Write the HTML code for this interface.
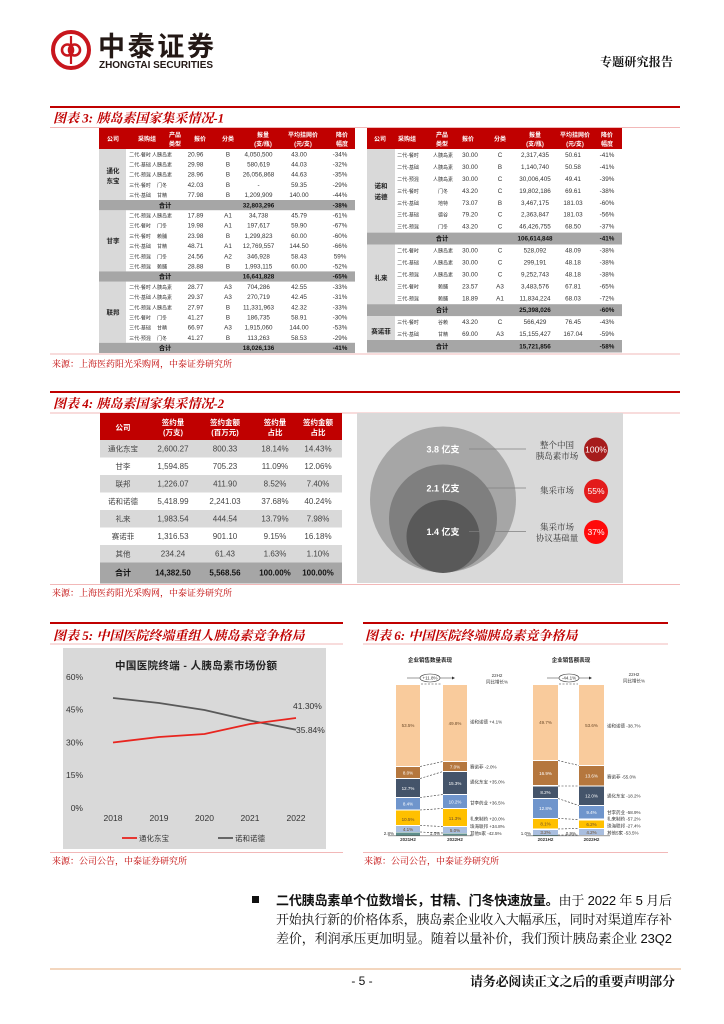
<!DOCTYPE html>
<html><head><meta charset="utf-8"><style>
html,body{margin:0;padding:0;background:#fff;}
body{width:724px;height:1024px;overflow:hidden;}
svg{display:block;}
</style></head><body>
<svg width="724" height="1024" viewBox="0 0 724 1024" xmlns="http://www.w3.org/2000/svg">
<style>
.n{font-family:"Liberation Sans",sans-serif;font-size:6.3px;fill:#333;text-anchor:middle}
.c{font-family:"Liberation Sans","Noto Sans CJK SC",sans-serif;font-size:5px;fill:#333;text-anchor:middle}
.h{font-family:"Liberation Sans","Noto Sans CJK SC",sans-serif;font-size:6px;font-weight:bold;fill:#fff;text-anchor:middle}
.co{font-family:"Liberation Sans","Noto Sans CJK SC",sans-serif;font-size:6.5px;font-weight:bold;fill:#222;text-anchor:middle}
.tb{font-family:"Liberation Sans","Noto Sans CJK SC",sans-serif;font-size:6.3px;font-weight:bold;fill:#111;text-anchor:middle}
.tt{font-family:"Liberation Serif","Noto Serif CJK SC",serif;font-size:13px;font-weight:bold;font-style:italic;fill:#c00000}
.src{font-family:"Liberation Serif","Noto Serif CJK SC",serif;font-size:9px;fill:#c00000}
.t4{font-family:"Liberation Sans","Noto Sans CJK SC",sans-serif;font-size:8px;fill:#444;text-anchor:middle}
.t4c{font-family:"Liberation Sans","Noto Sans CJK SC",sans-serif;font-size:7.5px;fill:#444;text-anchor:middle}
.t4h{font-family:"Liberation Sans","Noto Sans CJK SC",sans-serif;font-size:7.5px;font-weight:bold;fill:#fff;text-anchor:middle}
.t4b{font-family:"Liberation Sans","Noto Sans CJK SC",sans-serif;font-size:8px;font-weight:bold;fill:#111;text-anchor:middle}
.ax{font-family:"Liberation Sans",sans-serif;font-size:8.5px;fill:#333}
.lg{font-family:"Liberation Sans","Noto Sans CJK SC",sans-serif;font-size:7.5px;fill:#333}
.s6{font-family:"Liberation Sans","Noto Sans CJK SC",sans-serif;font-size:4.5px;fill:#333}
.s6w{font-family:"Liberation Sans",sans-serif;font-size:4.5px;fill:#fff;text-anchor:middle}
.s6d{font-family:"Liberation Sans",sans-serif;font-size:4.5px;fill:#6b4a2a;text-anchor:middle}
.body{font-family:"Liberation Sans","Noto Serif CJK SC",serif;font-size:13px;fill:#111}
</style>

<!-- HEADER -->
<circle cx="71" cy="50" r="18" fill="none" stroke="#c8161d" stroke-width="4"/>
<circle cx="67.5" cy="50" r="5.5" fill="none" stroke="#c8161d" stroke-width="2.6"/>
<circle cx="74.5" cy="50" r="5.5" fill="none" stroke="#c8161d" stroke-width="2.6"/>
<line x1="71" y1="36" x2="71" y2="64" stroke="#c8161d" stroke-width="2.2"/>
<text x="98" y="56" font-family="Liberation Sans,'Noto Sans CJK SC',sans-serif" font-size="27" font-weight="bold" fill="#231815" textLength="116">中泰证券</text>
<text x="99" y="68" font-family="Liberation Sans,sans-serif" font-size="10" font-weight="bold" fill="#231815" textLength="114" lengthAdjust="spacingAndGlyphs">ZHONGTAI SECURITIES</text>
<text x="600" y="66" font-family="'Liberation Serif','Noto Serif CJK SC',serif" font-size="12" font-weight="bold" fill="#111" textLength="73">专题研究报告</text>

<!-- FIGURE 3 -->
<line x1="50" y1="107" x2="680" y2="107" stroke="#c00000" stroke-width="2"/>
<text class="tt" x="53" y="122.5">图表 3:  胰岛素国家集采情况-1</text>
<line x1="50" y1="127.5" x2="680" y2="127.5" stroke="#f2b8b8" stroke-width="1"/>
<line x1="50" y1="354" x2="680" y2="354" stroke="#f2b8b8" stroke-width="1"/>

<!-- left table -->
<rect x="99" y="128" width="256" height="21" fill="#c00000"/>
<text class="h" x="113" y="141">公司</text>
<text class="h" x="147" y="141">采购组</text>
<text class="h" x="175" y="137">产品</text><text class="h" x="175" y="146">类型</text>
<text class="h" x="200" y="141">报价</text>
<text class="h" x="228" y="141">分类</text>
<text class="h" x="263" y="137">报量</text><text class="h" x="263" y="146">(支/瓶)</text>
<text class="h" x="303" y="137">平均挂网价</text><text class="h" x="303" y="146">(元/支)</text>
<text class="h" x="342" y="137">降价</text><text class="h" x="342" y="146">幅度</text>
<rect x="99" y="149" width="27" height="51" fill="#d9d9d9"/>
<rect x="99" y="210.2" width="27" height="61.2" fill="#d9d9d9"/>
<rect x="99" y="281.6" width="27" height="61.2" fill="#d9d9d9"/>
<rect x="99" y="200" width="256" height="10.2" fill="#a6a6a6"/>
<rect x="99" y="271.4" width="256" height="10.2" fill="#a6a6a6"/>
<rect x="99" y="342.8" width="256" height="10.2" fill="#a6a6a6"/>
<text class="co" x="113" y="173">通化</text><text class="co" x="113" y="183">东宝</text>
<text class="co" x="113" y="243">甘李</text>
<text class="co" x="113" y="314.5">联邦</text>

<g transform="translate(0,156.3)"><text class="c" x="140">二代-餐时</text><text class="c" x="162">人胰岛素</text><text class="n" x="195.5">20.96</text><text class="n" x="228">B</text><text class="n" x="258.5">4,050,500</text><text class="n" x="299">43.00</text><text class="n" x="340">-34%</text></g>
<g transform="translate(0,166.5)"><text class="c" x="140">二代-基础</text><text class="c" x="162">人胰岛素</text><text class="n" x="195.5">29.98</text><text class="n" x="228">B</text><text class="n" x="258.5">580,619</text><text class="n" x="299">44.03</text><text class="n" x="340">-32%</text></g>
<g transform="translate(0,176.7)"><text class="c" x="140">二代-预混</text><text class="c" x="162">人胰岛素</text><text class="n" x="195.5">28.96</text><text class="n" x="228">B</text><text class="n" x="258.5">26,056,868</text><text class="n" x="299">44.63</text><text class="n" x="340">-35%</text></g>
<g transform="translate(0,186.9)"><text class="c" x="140">三代-餐时</text><text class="c" x="162">门冬</text><text class="n" x="195.5">42.03</text><text class="n" x="228">B</text><text class="n" x="258.5">-</text><text class="n" x="299">59.35</text><text class="n" x="340">-29%</text></g>
<g transform="translate(0,197.1)"><text class="c" x="140">三代-基础</text><text class="c" x="162">甘精</text><text class="n" x="195.5">77.98</text><text class="n" x="228">B</text><text class="n" x="258.5">1,209,909</text><text class="n" x="299">140.00</text><text class="n" x="340">-44%</text></g>
<g transform="translate(0,207.3)"><text class="tb" x="165">合计</text><text class="tb" x="258.5">32,803,296</text><text class="tb" x="340">-38%</text></g>
<g transform="translate(0,217.5)"><text class="c" x="140">二代-预混</text><text class="c" x="162">人胰岛素</text><text class="n" x="195.5">17.89</text><text class="n" x="228">A1</text><text class="n" x="258.5">34,738</text><text class="n" x="299">45.79</text><text class="n" x="340">-61%</text></g>
<g transform="translate(0,227.7)"><text class="c" x="140">三代-餐时</text><text class="c" x="162">门冬</text><text class="n" x="195.5">19.98</text><text class="n" x="228">A1</text><text class="n" x="258.5">197,617</text><text class="n" x="299">59.90</text><text class="n" x="340">-67%</text></g>
<g transform="translate(0,237.9)"><text class="c" x="140">三代-餐时</text><text class="c" x="162">赖脯</text><text class="n" x="195.5">23.98</text><text class="n" x="228">B</text><text class="n" x="258.5">1,299,823</text><text class="n" x="299">60.00</text><text class="n" x="340">-60%</text></g>
<g transform="translate(0,248.1)"><text class="c" x="140">三代-基础</text><text class="c" x="162">甘精</text><text class="n" x="195.5">48.71</text><text class="n" x="228">A1</text><text class="n" x="258.5">12,769,557</text><text class="n" x="299">144.50</text><text class="n" x="340">-66%</text></g>
<g transform="translate(0,258.3)"><text class="c" x="140">三代-预混</text><text class="c" x="162">门冬</text><text class="n" x="195.5">24.56</text><text class="n" x="228">A2</text><text class="n" x="258.5">346,928</text><text class="n" x="299">58.43</text><text class="n" x="340">59%</text></g>
<g transform="translate(0,268.5)"><text class="c" x="140">三代-预混</text><text class="c" x="162">赖脯</text><text class="n" x="195.5">28.88</text><text class="n" x="228">B</text><text class="n" x="258.5">1,993,115</text><text class="n" x="299">60.00</text><text class="n" x="340">-52%</text></g>
<g transform="translate(0,278.7)"><text class="tb" x="165">合计</text><text class="tb" x="258.5">16,641,828</text><text class="tb" x="340">-65%</text></g>
<g transform="translate(0,288.9)"><text class="c" x="140">二代-餐时</text><text class="c" x="162">人胰岛素</text><text class="n" x="195.5">28.77</text><text class="n" x="228">A3</text><text class="n" x="258.5">704,286</text><text class="n" x="299">42.55</text><text class="n" x="340">-33%</text></g>
<g transform="translate(0,299.1)"><text class="c" x="140">二代-基础</text><text class="c" x="162">人胰岛素</text><text class="n" x="195.5">29.37</text><text class="n" x="228">A3</text><text class="n" x="258.5">270,719</text><text class="n" x="299">42.45</text><text class="n" x="340">-31%</text></g>
<g transform="translate(0,309.3)"><text class="c" x="140">二代-预混</text><text class="c" x="162">人胰岛素</text><text class="n" x="195.5">27.97</text><text class="n" x="228">B</text><text class="n" x="258.5">11,331,963</text><text class="n" x="299">42.32</text><text class="n" x="340">-33%</text></g>
<g transform="translate(0,319.5)"><text class="c" x="140">三代-餐时</text><text class="c" x="162">门冬</text><text class="n" x="195.5">41.27</text><text class="n" x="228">B</text><text class="n" x="258.5">186,735</text><text class="n" x="299">58.91</text><text class="n" x="340">-30%</text></g>
<g transform="translate(0,329.7)"><text class="c" x="140">三代-基础</text><text class="c" x="162">甘精</text><text class="n" x="195.5">66.97</text><text class="n" x="228">A3</text><text class="n" x="258.5">1,915,060</text><text class="n" x="299">144.00</text><text class="n" x="340">-53%</text></g>
<g transform="translate(0,339.9)"><text class="c" x="140">三代-预混</text><text class="c" x="162">门冬</text><text class="n" x="195.5">41.27</text><text class="n" x="228">B</text><text class="n" x="258.5">113,263</text><text class="n" x="299">58.53</text><text class="n" x="340">-29%</text></g>
<g transform="translate(0,350.1)"><text class="tb" x="165">合计</text><text class="tb" x="258.5">18,026,136</text><text class="tb" x="340">-41%</text></g>

<!-- right table -->
<rect x="367" y="128" width="255" height="21" fill="#c00000"/>
<text class="h" x="380" y="141">公司</text>
<text class="h" x="407" y="141">采购组</text>
<text class="h" x="442" y="137">产品</text><text class="h" x="442" y="146">类型</text>
<text class="h" x="468" y="141">报价</text>
<text class="h" x="500" y="141">分类</text>
<text class="h" x="535" y="137">报量</text><text class="h" x="535" y="146">(支/瓶)</text>
<text class="h" x="575" y="137">平均挂网价</text><text class="h" x="575" y="146">(元/支)</text>
<text class="h" x="607" y="137">降价</text><text class="h" x="607" y="146">幅度</text>
<rect x="367" y="149" width="28" height="83.6" fill="#d9d9d9"/>
<rect x="367" y="244.5" width="28" height="59.7" fill="#d9d9d9"/>
<rect x="367" y="316.2" width="28" height="23.9" fill="#d9d9d9"/>
<rect x="367" y="232.6" width="255" height="11.9" fill="#a6a6a6"/>
<rect x="367" y="304.2" width="255" height="11.9" fill="#a6a6a6"/>
<rect x="367" y="340" width="255" height="12.5" fill="#a6a6a6"/>
<text class="co" x="381" y="188">诺和</text><text class="co" x="381" y="199">诺德</text>
<text class="co" x="381" y="280">礼来</text>
<text class="co" x="381" y="333.5">赛诺菲</text>

<g transform="translate(0,157)"><text class="c" x="408">二代-餐时</text><text class="c" x="443">人胰岛素</text><text class="n" x="470">30.00</text><text class="n" x="500">C</text><text class="n" x="535">2,317,435</text><text class="n" x="573">50.61</text><text class="n" x="607">-41%</text></g>
<g transform="translate(0,168.9)"><text class="c" x="408">二代-基础</text><text class="c" x="443">人胰岛素</text><text class="n" x="470">30.00</text><text class="n" x="500">B</text><text class="n" x="535">1,140,740</text><text class="n" x="573">50.58</text><text class="n" x="607">-41%</text></g>
<g transform="translate(0,180.9)"><text class="c" x="408">二代-预混</text><text class="c" x="443">人胰岛素</text><text class="n" x="470">30.00</text><text class="n" x="500">C</text><text class="n" x="535">30,006,405</text><text class="n" x="573">49.41</text><text class="n" x="607">-39%</text></g>
<g transform="translate(0,192.8)"><text class="c" x="408">三代-餐时</text><text class="c" x="443">门冬</text><text class="n" x="470">43.20</text><text class="n" x="500">C</text><text class="n" x="535">19,802,186</text><text class="n" x="573">69.61</text><text class="n" x="607">-38%</text></g>
<g transform="translate(0,204.8)"><text class="c" x="408">三代-基础</text><text class="c" x="443">地特</text><text class="n" x="470">73.07</text><text class="n" x="500">B</text><text class="n" x="535">3,467,175</text><text class="n" x="573">181.03</text><text class="n" x="607">-60%</text></g>
<g transform="translate(0,216.7)"><text class="c" x="408">三代-基础</text><text class="c" x="443">德谷</text><text class="n" x="470">79.20</text><text class="n" x="500">C</text><text class="n" x="535">2,363,847</text><text class="n" x="573">181.03</text><text class="n" x="607">-56%</text></g>
<g transform="translate(0,228.6)"><text class="c" x="408">三代-预混</text><text class="c" x="443">门冬</text><text class="n" x="470">43.20</text><text class="n" x="500">C</text><text class="n" x="535">46,426,755</text><text class="n" x="573">68.50</text><text class="n" x="607">-37%</text></g>
<g transform="translate(0,240.6)"><text class="tb" x="442">合计</text><text class="tb" x="535">106,614,848</text><text class="tb" x="607">-41%</text></g>
<g transform="translate(0,252.5)"><text class="c" x="408">二代-餐时</text><text class="c" x="443">人胰岛素</text><text class="n" x="470">30.00</text><text class="n" x="500">C</text><text class="n" x="535">528,092</text><text class="n" x="573">48.09</text><text class="n" x="607">-38%</text></g>
<g transform="translate(0,264.5)"><text class="c" x="408">二代-基础</text><text class="c" x="443">人胰岛素</text><text class="n" x="470">30.00</text><text class="n" x="500">C</text><text class="n" x="535">299,191</text><text class="n" x="573">48.18</text><text class="n" x="607">-38%</text></g>
<g transform="translate(0,276.4)"><text class="c" x="408">二代-预混</text><text class="c" x="443">人胰岛素</text><text class="n" x="470">30.00</text><text class="n" x="500">C</text><text class="n" x="535">9,252,743</text><text class="n" x="573">48.18</text><text class="n" x="607">-38%</text></g>
<g transform="translate(0,288.3)"><text class="c" x="408">三代-餐时</text><text class="c" x="443">赖脯</text><text class="n" x="470">23.57</text><text class="n" x="500">A3</text><text class="n" x="535">3,483,576</text><text class="n" x="573">67.81</text><text class="n" x="607">-65%</text></g>
<g transform="translate(0,300.3)"><text class="c" x="408">三代-预混</text><text class="c" x="443">赖脯</text><text class="n" x="470">18.89</text><text class="n" x="500">A1</text><text class="n" x="535">11,834,224</text><text class="n" x="573">68.03</text><text class="n" x="607">-72%</text></g>
<g transform="translate(0,312.2)"><text class="tb" x="442">合计</text><text class="tb" x="535">25,398,026</text><text class="tb" x="607">-60%</text></g>
<g transform="translate(0,324.2)"><text class="c" x="408">三代-餐时</text><text class="c" x="443">谷赖</text><text class="n" x="470">43.20</text><text class="n" x="500">C</text><text class="n" x="535">566,429</text><text class="n" x="573">76.45</text><text class="n" x="607">-43%</text></g>
<g transform="translate(0,336.1)"><text class="c" x="408">三代-基础</text><text class="c" x="443">甘精</text><text class="n" x="470">69.00</text><text class="n" x="500">A3</text><text class="n" x="535">15,155,427</text><text class="n" x="573">167.04</text><text class="n" x="607">-59%</text></g>
<g transform="translate(0,348.5)"><text class="tb" x="442">合计</text><text class="tb" x="535">15,721,856</text><text class="tb" x="607">-58%</text></g>

<text class="src" x="52" y="367">来源：上海医药阳光采购网，中泰证券研究所</text>

<!-- FIGURE 4 -->
<line x1="50" y1="392" x2="680" y2="392" stroke="#c00000" stroke-width="2"/>
<text class="tt" x="53" y="408">图表 4:  胰岛素国家集采情况-2</text>
<line x1="50" y1="413" x2="680" y2="413" stroke="#f2b8b8" stroke-width="1"/>
<line x1="50" y1="584.5" x2="680" y2="584.5" stroke="#f2b8b8" stroke-width="1"/>

<rect x="100" y="413" width="242" height="27" fill="#c00000"/>
<text class="t4h" x="123" y="430">公司</text>
<text class="t4h" x="173" y="425">签约量</text><text class="t4h" x="173" y="435">(万支)</text>
<text class="t4h" x="225" y="425">签约金额</text><text class="t4h" x="225" y="435">(百万元)</text>
<text class="t4h" x="275" y="425">签约量</text><text class="t4h" x="275" y="435">占比</text>
<text class="t4h" x="318" y="425">签约金额</text><text class="t4h" x="318" y="435">占比</text>
<rect x="100" y="440" width="242" height="17.5" fill="#d9d9d9"/>
<rect x="100" y="475" width="242" height="17.5" fill="#d9d9d9"/>
<rect x="100" y="510" width="242" height="17.5" fill="#d9d9d9"/>
<rect x="100" y="545" width="242" height="17.5" fill="#d9d9d9"/>
<rect x="100" y="562.5" width="242" height="21" fill="#a6a6a6"/>
<g transform="translate(0,451.5)"><text class="t4c" x="123">通化东宝</text><text class="t4" x="173">2,600.27</text><text class="t4" x="225">800.33</text><text class="t4" x="275">18.14%</text><text class="t4" x="318">14.43%</text></g>
<g transform="translate(0,469)"><text class="t4c" x="123">甘李</text><text class="t4" x="173">1,594.85</text><text class="t4" x="225">705.23</text><text class="t4" x="275">11.09%</text><text class="t4" x="318">12.06%</text></g>
<g transform="translate(0,486.5)"><text class="t4c" x="123">联邦</text><text class="t4" x="173">1,226.07</text><text class="t4" x="225">411.90</text><text class="t4" x="275">8.52%</text><text class="t4" x="318">7.40%</text></g>
<g transform="translate(0,504)"><text class="t4c" x="123">诺和诺德</text><text class="t4" x="173">5,418.99</text><text class="t4" x="225">2,241.03</text><text class="t4" x="275">37.68%</text><text class="t4" x="318">40.24%</text></g>
<g transform="translate(0,521.5)"><text class="t4c" x="123">礼来</text><text class="t4" x="173">1,983.54</text><text class="t4" x="225">444.54</text><text class="t4" x="275">13.79%</text><text class="t4" x="318">7.98%</text></g>
<g transform="translate(0,539)"><text class="t4c" x="123">赛诺菲</text><text class="t4" x="173">1,316.53</text><text class="t4" x="225">901.10</text><text class="t4" x="275">9.15%</text><text class="t4" x="318">16.18%</text></g>
<g transform="translate(0,556.5)"><text class="t4c" x="123">其他</text><text class="t4" x="173">234.24</text><text class="t4" x="225">61.43</text><text class="t4" x="275">1.63%</text><text class="t4" x="318">1.10%</text></g>
<g transform="translate(0,575.5)"><text class="t4b" x="123">合计</text><text class="t4b" x="173">14,382.50</text><text class="t4b" x="225">5,568.56</text><text class="t4b" x="275">100.00%</text><text class="t4b" x="318">100.00%</text></g>

<!-- circles panel -->
<rect x="357" y="413" width="266" height="170" fill="#d9d9d9"/>
<circle cx="443" cy="499.5" r="73" fill="#a6a6a6"/>
<circle cx="443" cy="518.5" r="54" fill="#7f7f7f"/>
<circle cx="443" cy="536.5" r="36.5" fill="#595959"/>
<g font-family="Liberation Sans,'Noto Sans CJK SC',sans-serif" font-size="9" font-weight="bold" fill="#fff" text-anchor="middle">
<text x="443" y="452.5">3.8 亿支</text>
<text x="443" y="491.5">2.1 亿支</text>
<text x="443" y="535">1.4 亿支</text>
</g>
<g stroke="#7f7f7f" stroke-width="0.8">
<line x1="469" y1="449" x2="526" y2="449"/>
<line x1="469" y1="488" x2="526" y2="488"/>
<line x1="469" y1="531.5" x2="526" y2="531.5"/>
</g>
<g font-family="'Liberation Serif','Noto Serif CJK SC',serif" font-size="8.5" fill="#333" text-anchor="middle">
<text x="557" y="448">整个中国</text>
<text x="557" y="459">胰岛素市场</text>
<text x="557" y="493.5">集采市场</text>
<text x="557" y="530">集采市场</text>
<text x="557" y="541">协议基础量</text>
</g>
<circle cx="596" cy="449.5" r="12" fill="#a61c1c"/>
<circle cx="596" cy="491" r="12" fill="#e31b1b"/>
<circle cx="596" cy="532" r="12" fill="#ff0a0a"/>
<g font-family="Liberation Sans,sans-serif" font-size="8.5" fill="#fff" text-anchor="middle">
<text x="596" y="452.5">100%</text>
<text x="596" y="494">55%</text>
<text x="596" y="535">37%</text>
</g>

<text class="src" x="52" y="596">来源：上海医药阳光采购网，中泰证券研究所</text>

<!-- FIGURE 5 -->
<line x1="50" y1="623" x2="343" y2="623" stroke="#c00000" stroke-width="2"/>
<text class="tt" x="53" y="640">图表 5:  中国医院终端重组人胰岛素竞争格局</text>
<line x1="50" y1="644" x2="343" y2="644" stroke="#f2b8b8" stroke-width="1"/>
<rect x="63" y="648" width="263" height="201" fill="#d9d9d9"/>
<text x="115" y="669" font-family="Liberation Sans,'Noto Sans CJK SC',sans-serif" font-size="10.5" font-weight="bold" fill="#222" textLength="162">中国医院终端 - 人胰岛素市场份额</text>
<g class="ax" text-anchor="end">
<text x="83" y="680">60%</text>
<text x="83" y="712.5">45%</text>
<text x="83" y="745.5">30%</text>
<text x="83" y="778">15%</text>
<text x="83" y="811">0%</text>
</g>
<g class="ax" text-anchor="middle">
<text x="113" y="821">2018</text>
<text x="159" y="821">2019</text>
<text x="204.5" y="821">2020</text>
<text x="250" y="821">2021</text>
<text x="296" y="821">2022</text>
</g>
<polyline points="113,698 159,703 204.5,710 250,720.5 296,729.8" fill="none" stroke="#595959" stroke-width="1.8"/>
<polyline points="113,742.5 159,737 204.5,734 250,724 296,718" fill="none" stroke="#e8251f" stroke-width="1.8"/>
<text class="ax" x="293" y="709">41.30%</text>
<text class="ax" x="296" y="733">35.84%</text>
<line x1="122" y1="838" x2="137" y2="838" stroke="#e8251f" stroke-width="1.8"/>
<text class="lg" x="139" y="841">通化东宝</text>
<line x1="218" y1="838" x2="233" y2="838" stroke="#595959" stroke-width="1.8"/>
<text class="lg" x="235" y="841">诺和诺德</text>
<line x1="50" y1="852.5" x2="343" y2="852.5" stroke="#f2b8b8" stroke-width="1"/>
<text class="src" x="52" y="864">来源：公司公告，中泰证券研究所</text>

<!-- FIGURE 6 -->
<line x1="363" y1="623" x2="668" y2="623" stroke="#c00000" stroke-width="2"/>
<text class="tt" x="365" y="640">图表 6:  中国医院终端胰岛素竞争格局</text>
<line x1="363" y1="644" x2="668" y2="644" stroke="#f2b8b8" stroke-width="1"/>
<line x1="363" y1="852.5" x2="668" y2="852.5" stroke="#f2b8b8" stroke-width="1"/>
<text class="src" x="364" y="864">来源：公司公告，中泰证券研究所</text>

<g font-family="Liberation Sans,'Noto Sans CJK SC',sans-serif" font-size="5.5" font-weight="bold" fill="#222" text-anchor="middle">
<text x="430" y="662">企业销售数量表现</text>
<text x="571" y="662">企业销售额表现</text>
</g>
<!-- arrows -->
<line x1="407" y1="678" x2="452" y2="678" stroke="#333" stroke-width="0.6"/>
<path d="M452,676.5 L455,678 L452,679.5 z" fill="#333"/>
<ellipse cx="430" cy="678" rx="10" ry="4" fill="#fff" stroke="#333" stroke-width="0.6"/>
<text class="s6" x="430" y="679.6" text-anchor="middle">+11.8%</text>
<line x1="421" y1="684" x2="442" y2="684" stroke="#333" stroke-width="0.6" stroke-dasharray="2,1.5"/>
<text class="s6" x="497" y="677" text-anchor="middle">22H2</text>
<text class="s6" x="497" y="683.5" text-anchor="middle">同比增长%</text>
<line x1="547" y1="678" x2="589" y2="678" stroke="#333" stroke-width="0.6"/>
<path d="M589,676.5 L592,678 L589,679.5 z" fill="#333"/>
<ellipse cx="569" cy="678" rx="10" ry="4" fill="#fff" stroke="#333" stroke-width="0.6"/>
<text class="s6" x="569" y="679.6" text-anchor="middle">-44.1%</text>
<line x1="559" y1="684" x2="578" y2="684" stroke="#333" stroke-width="0.6" stroke-dasharray="2,1.5"/>
<text class="s6" x="634" y="676" text-anchor="middle">22H2</text>
<text class="s6" x="634" y="682.5" text-anchor="middle">同比增长%</text>

<!-- chart 1 bars -->
<rect x="396" y="685" width="24" height="81" fill="#f9cb9c"/>
<rect x="396" y="767" width="24" height="11" fill="#b5773e"/>
<rect x="396" y="779" width="24" height="18" fill="#44546a"/>
<rect x="396" y="798" width="24" height="11.5" fill="#6f95cc"/>
<rect x="396" y="810.5" width="24" height="14.5" fill="#ffc000"/>
<rect x="396" y="826" width="24" height="6" fill="#a9bedf"/>
<rect x="396" y="832.5" width="24" height="3" fill="#5f8f8c"/>
<rect x="443" y="685" width="24" height="76" fill="#f9cb9c"/>
<rect x="443" y="762" width="24" height="9" fill="#b5773e"/>
<rect x="443" y="772" width="24" height="22" fill="#44546a"/>
<rect x="443" y="795" width="24" height="13" fill="#6f95cc"/>
<rect x="443" y="809" width="24" height="17" fill="#ffc000"/>
<rect x="443" y="827" width="24" height="6" fill="#a9bedf"/>
<rect x="443" y="833.5" width="24" height="1.8" fill="#5f8f8c"/>
<g class="s6d">
<text x="408" y="727">53.5%</text><text x="408" y="821">10.5%</text><text x="408" y="831">4.1%</text>
<text x="455" y="725">49.8%</text><text x="455" y="820">11.3%</text><text x="455" y="832">5.0%</text>
</g>
<g class="s6w">
<text x="408" y="774.5">8.0%</text><text x="408" y="790">12.7%</text><text x="408" y="805.5">8.4%</text>
<text x="455" y="768.5">7.0%</text><text x="455" y="785">15.3%</text><text x="455" y="803.5">10.2%</text>
</g>
<g stroke="#333" stroke-width="0.6" stroke-dasharray="2,1.5">
<line x1="420" y1="766.5" x2="443" y2="761.5"/>
<line x1="420" y1="778.5" x2="443" y2="771.5"/>
<line x1="420" y1="797.5" x2="443" y2="794.5"/>
<line x1="420" y1="810" x2="443" y2="808.5"/>
<line x1="420" y1="825.5" x2="443" y2="826.5"/>
<line x1="420" y1="832" x2="443" y2="833"/>
</g>
<text class="s6" x="394" y="835" text-anchor="end">2.8%</text>
<text class="s6" x="440" y="835" text-anchor="end">1.4%</text>
<line x1="388" y1="835.8" x2="473" y2="835.8" stroke="#555" stroke-width="0.6"/>
<g class="s6">
<text x="470" y="723.5">诺和诺德 +4.1%</text>
<text x="470" y="768.5">赛诺菲   -2.0%</text>
<text x="470" y="783.5">通化东宝 +35.0%</text>
<text x="470" y="804.5">甘李药业 +36.5%</text>
<text x="470" y="820.5">礼来制药 +20.0%</text>
<text x="470" y="828">珠海联邦 +34.8%</text>
<text x="470" y="835">其他5家  -42.5%</text>
</g>
<g font-family="Liberation Sans,sans-serif" font-size="4.5" font-weight="bold" fill="#333" text-anchor="middle">
<text x="408" y="841">2021H2</text><text x="455" y="841">2022H2</text>
<text x="545.5" y="841">2021H2</text><text x="591.5" y="841">2022H2</text>
</g>

<!-- chart 2 bars -->
<rect x="533" y="685" width="25" height="75" fill="#f9cb9c"/>
<rect x="533" y="761" width="25" height="24" fill="#b5773e"/>
<rect x="533" y="786.5" width="25" height="11.5" fill="#44546a"/>
<rect x="533" y="799" width="25" height="19" fill="#6f95cc"/>
<rect x="533" y="819" width="25" height="9.5" fill="#ffc000"/>
<rect x="533" y="830" width="25" height="5" fill="#a9bedf"/>
<rect x="533" y="835" width="25" height="1" fill="#5f8f8c"/>
<rect x="579" y="685" width="25" height="80" fill="#f9cb9c"/>
<rect x="579" y="766" width="25" height="19.5" fill="#b5773e"/>
<rect x="579" y="786.5" width="25" height="18.5" fill="#44546a"/>
<rect x="579" y="806" width="25" height="12.5" fill="#6f95cc"/>
<rect x="579" y="820.5" width="25" height="7.5" fill="#ffc000"/>
<rect x="579" y="829" width="25" height="6" fill="#a9bedf"/>
<g class="s6d">
<text x="545.5" y="724">49.7%</text><text x="545.5" y="825.5">8.1%</text><text x="545.5" y="834">3.2%</text>
<text x="591.5" y="727">53.6%</text><text x="591.5" y="826">6.2%</text><text x="591.5" y="834">4.2%</text>
</g>
<g class="s6w">
<text x="545.5" y="775">16.9%</text><text x="545.5" y="794">8.2%</text><text x="545.5" y="810">12.8%</text>
<text x="591.5" y="777.5">13.6%</text><text x="591.5" y="797.5">12.0%</text><text x="591.5" y="814">9.4%</text>
</g>
<g stroke="#333" stroke-width="0.6" stroke-dasharray="2,1.5">
<line x1="558" y1="760.5" x2="579" y2="765.5"/>
<line x1="558" y1="786" x2="579" y2="786"/>
<line x1="558" y1="798.5" x2="579" y2="805.5"/>
<line x1="558" y1="818.5" x2="579" y2="819.5"/>
<line x1="558" y1="829" x2="579" y2="828.5"/>
<line x1="558" y1="835" x2="579" y2="835"/>
</g>
<text class="s6" x="531" y="835" text-anchor="end">1.0%</text>
<text class="s6" x="576" y="835" text-anchor="end">0.9%</text>
<line x1="526" y1="835.8" x2="610" y2="835.8" stroke="#555" stroke-width="0.6"/>
<g class="s6">
<text x="607" y="727.5">诺和诺德 -38.7%</text>
<text x="607" y="778.5">赛诺菲   -55.0%</text>
<text x="607" y="797.5">通化东宝 -18.2%</text>
<text x="607" y="814">甘李药业 -58.9%</text>
<text x="607" y="820.5">礼来制药 -57.2%</text>
<text x="607" y="827.5">珠海联邦 -27.4%</text>
<text x="607" y="834.5">其他5家  -53.5%</text>
</g>

<!-- BODY TEXT -->
<rect x="252" y="896" width="7" height="7" fill="#111"/>
<text class="body" x="276" y="905" textLength="396" lengthAdjust="spacing"><tspan font-family="'Liberation Sans','Noto Sans CJK SC',sans-serif" font-weight="bold">二代胰岛素单个位数增长，甘精、门冬快速放量。</tspan>由于 2022 年 5 月后</text>
<text class="body" x="276" y="924" textLength="396" lengthAdjust="spacing">开始执行新的价格体系，胰岛素企业收入大幅承压，同时对渠道库存补</text>
<text class="body" x="276" y="943" textLength="396" lengthAdjust="spacing">差价，利润承压更加明显。随着以量补价，我们预计胰岛素企业  23Q2</text>

<!-- FOOTER -->
<line x1="50" y1="969" x2="681" y2="969" stroke="#efc9a9" stroke-width="1.5"/>
<text x="362" y="985" font-family="Liberation Sans,sans-serif" font-size="12" fill="#111" text-anchor="middle">- 5 -</text>
<text x="470" y="986" font-family="'Liberation Serif','Noto Serif CJK SC',serif" font-size="13" font-weight="bold" fill="#111" textLength="205">请务必阅读正文之后的重要声明部分</text>
</svg>
</body></html>
